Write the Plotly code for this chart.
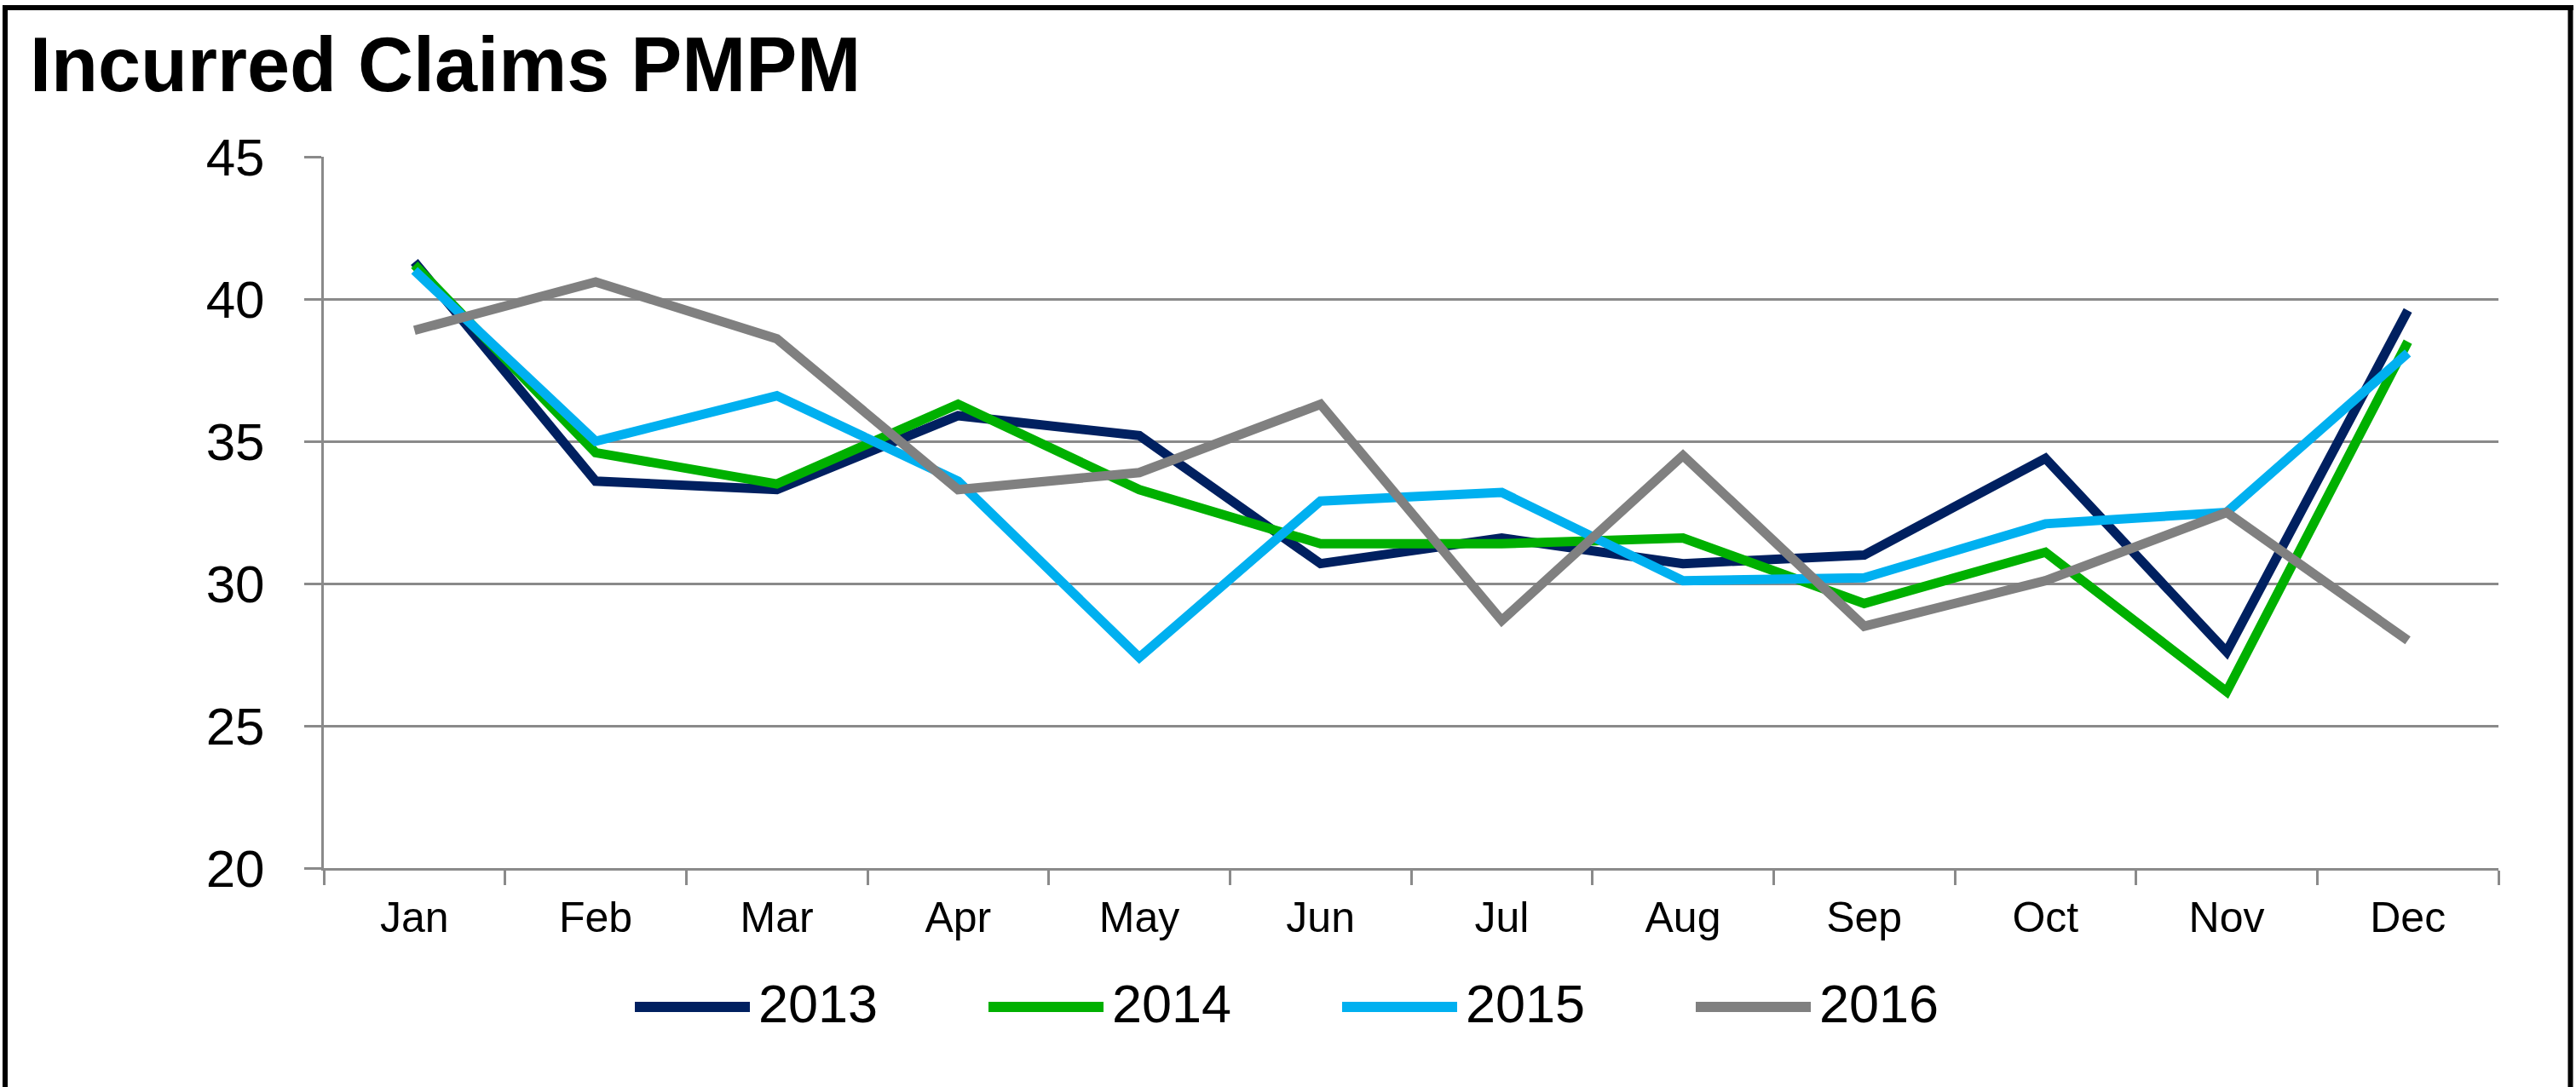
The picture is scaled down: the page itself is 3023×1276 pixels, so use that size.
import plotly.graph_objects as go

# ---- data ----
months = ["Jan", "Feb", "Mar", "Apr", "May", "Jun", "Jul", "Aug", "Sep", "Oct", "Nov", "Dec"]
series_names = ["2013", "2014", "2015", "2016"]
y2013 = [41.3, 33.6, 33.3, 35.9, 35.2, 30.7, 31.6, 30.7, 31.0, 34.4, 27.6, 39.6]
y2014 = [41.2, 34.6, 33.5, 36.3, 33.3, 31.4, 31.4, 31.6, 29.3, 31.1, 26.2, 38.5]
y2015 = [41.0, 35.0, 36.6, 33.6, 27.4, 32.9, 33.2, 30.1, 30.2, 32.1, 32.5, 38.1]
y2016 = [38.9, 40.6, 38.6, 33.3, 33.9, 36.3, 28.7, 34.5, 28.5, 30.1, 32.5, 28.0]
y_ticks = [20, 25, 30, 35, 40, 45]
title_text = "Incurred Claims PMPM"

colors = ["#002060", "#00B000", "#00B0F0", "#808080"]
values = [y2013, y2014, y2015, y2016]

# ---- layout geometry (pixels) ----
W, H = 3023, 1276
L, R, T, B = 380, 2932, 184, 1019
FONT = "Liberation Sans, Arial, sans-serif"
GRID = "#8a8a8a"


def px_x(p):
    return (p - L) / (R - L)


def px_y(p):
    return (B - p) / (B - T)


fig = go.Figure()
for name, vals, col in zip(series_names, values, colors):
    fig.add_trace(go.Scatter(
        x=months, y=vals, mode="lines", name=name,
        line=dict(color=col, width=11),
        showlegend=False,
    ))

shapes = []
annotations = []

# custom legend (long line samples like the original)
leg_start, leg_step = 745, 415
for i, (name, col) in enumerate(zip(series_names, colors)):
    x0 = leg_start + i * leg_step
    shapes.append(dict(type="line", xref="paper", yref="paper",
                       x0=px_x(x0), x1=px_x(x0 + 135), y0=px_y(1182), y1=px_y(1182),
                       line=dict(color=col, width=12)))
    annotations.append(dict(xref="paper", yref="paper", x=px_x(x0 + 143), y=px_y(1178),
                            xanchor="left", yanchor="middle", showarrow=False,
                            text=name, font=dict(family=FONT, size=63, color="black")))

# title
annotations.append(dict(xref="paper", yref="paper", x=px_x(33), y=px_y(76),
                        xanchor="left", yanchor="middle", showarrow=False,
                        text="<b>" + title_text + "</b>",
                        font=dict(family=FONT, size=90, color="black")))

# outer frame (left, top, right)
for (xa, ya, xb, yb) in [(6, 9, 6, H + 10), (3, 9, 3020, 9), (3016.5, 9, 3016.5, H + 10)]:
    shapes.append(dict(type="line", xref="paper", yref="paper",
                       x0=px_x(xa), y0=px_y(ya), x1=px_x(xb), y1=px_y(yb),
                       line=dict(color="black", width=6)))

fig.update_layout(
    width=W, height=H,
    margin=dict(l=L, r=W - R, t=T, b=H - B, pad=0),
    paper_bgcolor="white", plot_bgcolor="white",
    font=dict(family=FONT, color="black"),
    shapes=shapes, annotations=annotations,
    showlegend=False,
)
fig.update_xaxes(
    type="category", range=[-0.5, 11.5],
    showgrid=False, showline=True, linecolor=GRID, linewidth=3,
    ticks="outside", tickson="boundaries", ticklen=17, tickwidth=3, tickcolor=GRID,
    tickfont=dict(family=FONT, size=50, color="black"),
    ticklabelstandoff=12,
)
fig.update_yaxes(
    range=[20, 45], tickvals=y_ticks,
    showgrid=True, gridcolor=GRID, gridwidth=3,
    showline=True, linecolor=GRID, linewidth=3,
    ticks="outside", ticklen=20, tickwidth=3, tickcolor=GRID,
    tickfont=dict(family=FONT, size=62, color="black"),
    ticklabelstandoff=34, zeroline=False,
)

fig.write_html(
    "out.html",
    config={"displayModeBar": False},
    post_script="document.body.style.margin='0';document.body.style.overflow='hidden';",
)
